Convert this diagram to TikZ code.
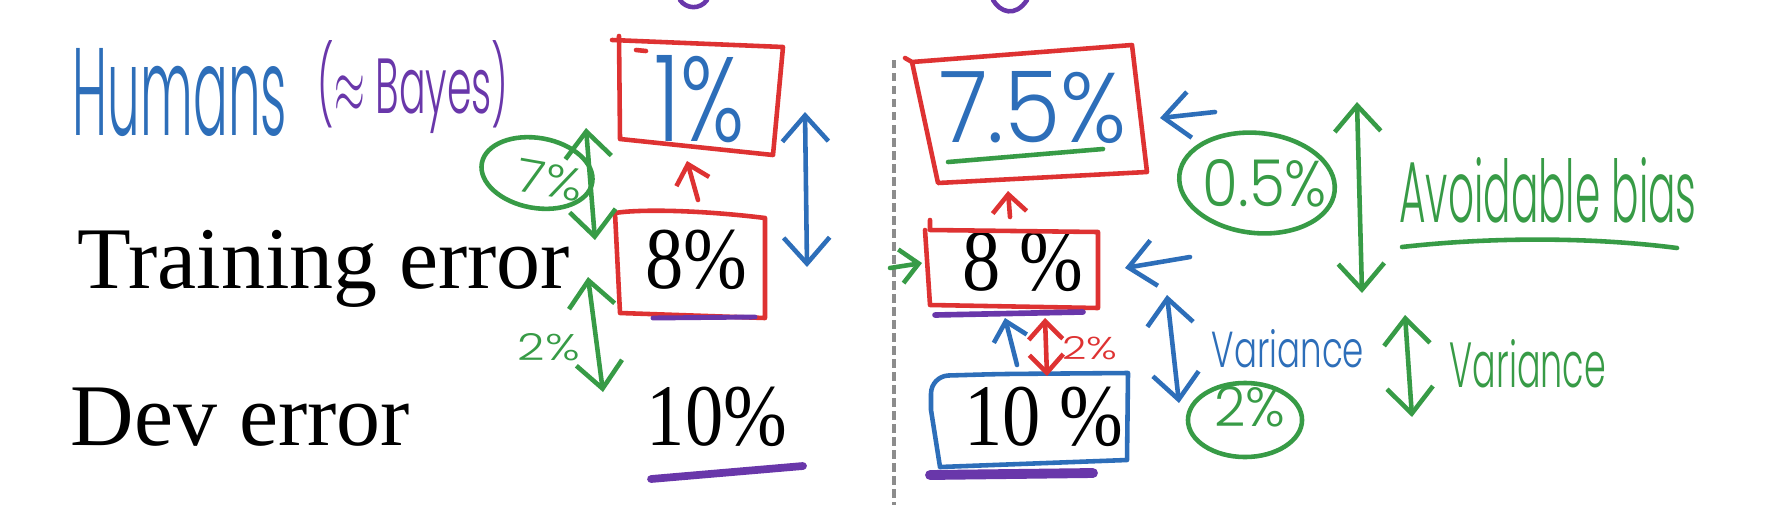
\documentclass[tikz,border=0pt]{standalone}
\usepackage{fontspec}
\setmainfont{Liberation Serif}
\newfontfamily\hand{Poppins Light}
\usetikzlibrary{arrows.meta,shapes.geometric}
\definecolor{penred}{RGB}{222,50,50}
\definecolor{penblue}{RGB}{45,110,185}
\definecolor{pengreen}{RGB}{55,155,70}
\definecolor{penpurple}{RGB}{105,55,170}
\newcommand{\handtxt}[3]{\resizebox{#1}{#2}{\hand #3}}
\tikzset{
  HB/.tip={Straight Barb[length=2.6mm,width=4.6mm]},
  hb/.tip={Straight Barb[length=1.8mm,width=3.4mm]},
}
\begin{document}
\begin{tikzpicture}[x=0.01cm,y=-0.01cm,
  pen/.style={line width=1.3pt,line cap=round,line join=round},
  redpen/.style={pen,draw=penred},
  bluepen/.style={pen,draw=penblue},
  greenpen/.style={pen,draw=pengreen},
  purplepen/.style={line width=2.2pt,line cap=round,draw=penpurple},
  lbl/.style={inner sep=0pt,font=\fontsize{25}{30}\selectfont},
  hw/.style={inner sep=0pt},
  oval/.style={ellipse,draw=pengreen,pen,inner sep=0pt}]
\fill[white] (0,0) rectangle (1773,527);
\useasboundingbox (0,0) rectangle (1773,527);

% dashed divider
\draw[draw=black!45,line width=0.9pt,dash pattern=on 2.4pt off 1.3pt] (894,60) coordinate (d1) -- (894,505) coordinate (d2);

% printed labels
\node[lbl,anchor=base west] (tr) at (77,288) {Training error};
\node[lbl,anchor=base west] (dv) at (70,445) {Dev error};
\node[lbl,anchor=base] (a8) at (696,288) {\scalebox{0.87}[1]{8\%}};
\node[lbl,anchor=base] (a10) at (717,445) {\scalebox{0.87}[1]{10\%}};
\node[lbl,anchor=base] (b8) at (1023,290) {\scalebox{0.87}[1]{8 \%}};
\node[lbl,anchor=base] (b10) at (1044,445) {\scalebox{0.87}[1]{10 \%}};

% handwritten texts
\node[hw,text=penblue] (hum) at (180,93) {\handtxt{2.14cm}{0.87cm}{Humans}};
\node[hw,text=penpurple] (bay) at (413,87) {\resizebox*{1.91cm}{0.93cm}{\hand($\approx$ Bayes)}};
\node[hw,text=penblue] (h1) at (700,99) {\handtxt{0.90cm}{0.86cm}{1\%}};
\node[hw,text=pengreen,rotate=-10] (h7) at (550,180) {\handtxt{0.66cm}{0.33cm}{7\%}};
\node[hw,text=pengreen] (h2l) at (549,347) {\handtxt{0.62cm}{0.27cm}{2\%}};
\node[hw,text=penblue] (h75) at (1033,108) {\handtxt{1.87cm}{0.71cm}{7.5\%}};
\node[hw,text=penred] (h2r) at (1090,348) {\handtxt{0.55cm}{0.23cm}{2\%}};
\node[hw,text=pengreen] (h05) at (1265,183) {\handtxt{1.24cm}{0.47cm}{0.5\%}};
\node[hw,text=pengreen] (hab) at (1548,190) {\handtxt{2.97cm}{0.65cm}{Avoidable bias}};
\node[hw,text=penblue] (hvb) at (1288,349) {\handtxt{1.52cm}{0.38cm}{Variance}};
\node[hw,text=pengreen] (h2g) at (1250,407) {\handtxt{0.71cm}{0.40cm}{2\%}};
\node[hw,text=pengreen] (hvg) at (1528,364) {\handtxt{1.56cm}{0.48cm}{Variance}};

% green ovals
\node[oval,minimum width=1.12cm,minimum height=0.70cm,rotate=-10] (e7) at (537,173) {};
\node[oval,minimum width=1.56cm,minimum height=1.00cm,rotate=-6] (e05) at (1257,183) {};
\node[oval,minimum width=1.14cm,minimum height=0.74cm] (e2) at (1245,420) {};

% hand-drawn boxes
\draw[redpen] (612,40) -- (783,47) -- (773,155) -- (620,139) -- (619,36);
\draw[redpen] (636,50) -- (646,51);
\draw[redpen] (615,213) .. controls (640,209) and (700,210) .. (765,218) -- (765,318) -- (620,313) -- (615,213);
\draw[redpen] (905,58) -- (912,62) -- (1132,45) -- (1147,172) -- (938,183) -- (912,62);
\draw[redpen] (930,220) -- (930,230) -- (1098,232) -- (1098,308) -- (930,305) -- (925,230);
\draw[bluepen] (1127,460) -- (940,467) -- (931,410) {[rounded corners=5pt] -- (931,376) -- (1000,374)} -- (1128,373) -- cycle;

% purple underlines and marks
\draw[purplepen,line width=1.4pt] (653,318) -- (755,317);
\draw[purplepen] (651,479) -- (803,466);
\draw[purplepen,line width=1.6pt] (935,315) -- (1083,312);
\draw[purplepen,line width=2.8pt] (930,475) -- (1093,473);
\draw[pen,draw=penpurple] (680,0) .. controls (686,9) and (700,10) .. (707,0);
\draw[pen,draw=penpurple] (993,0) .. controls (1000,12) and (1015,18) .. (1027,0);

% green underlines
\draw[greenpen] (948,162) -- (1103,149);
\draw[greenpen] (1402,247) .. controls (1500,236) and (1600,238) .. (1677,248);

% arrows
\coordinate (r1a) at (698,200); \coordinate (r1b) at (687,161);
\draw[redpen,-hb] (r1a) -- (r1b);
\coordinate (bl1) at (805,112); \coordinate (bl2) at (807,267);
\draw[bluepen,HB-HB] (bl1) -- (bl2);
\coordinate (gu1) at (586,128); \coordinate (gu2) at (595,240);
\draw[greenpen,HB-HB] (gu1) -- (gu2);
\coordinate (gl1) at (588,277); \coordinate (gl2) at (603,392);
\draw[greenpen,HB-HB] (gl1) -- (gl2);
\coordinate (r2a) at (1010,217); \coordinate (r2b) at (1008,191);
\draw[redpen,-hb] (r2a) -- (r2b);
\coordinate (g3a) at (890,268); \coordinate (g3b) at (922,263);
\draw[greenpen,-hb] (g3a) -- (g3b);
\coordinate (b3a) at (1017,365); \coordinate (b3b) at (1005,318);
\draw[bluepen,-hb] (b3a) -- (b3b);
\coordinate (r3a) at (1045,318); \coordinate (r3b) at (1047,376);
\draw[redpen,hb-hb] (r3a) -- (r3b);
\coordinate (b4a) at (1215,112); \coordinate (b4b) at (1160,118);
\draw[bluepen,-HB] (b4a) -- (b4b);
\coordinate (b5a) at (1190,257); \coordinate (b5b) at (1125,268);
\draw[bluepen,-HB] (b5a) -- (b5b);
\coordinate (gab1) at (1357,102); \coordinate (gab2) at (1362,293);
\draw[greenpen,HB-HB] (gab1) -- (gab2);
\coordinate (bv1) at (1167,295); \coordinate (bv2) at (1179,403);
\draw[bluepen,HB-HB] (bv1) -- (bv2);
\coordinate (gv1) at (1405,315); \coordinate (gv2) at (1412,417);
\draw[greenpen,HB-HB] (gv1) -- (gv2);
\end{tikzpicture}
\end{document}
